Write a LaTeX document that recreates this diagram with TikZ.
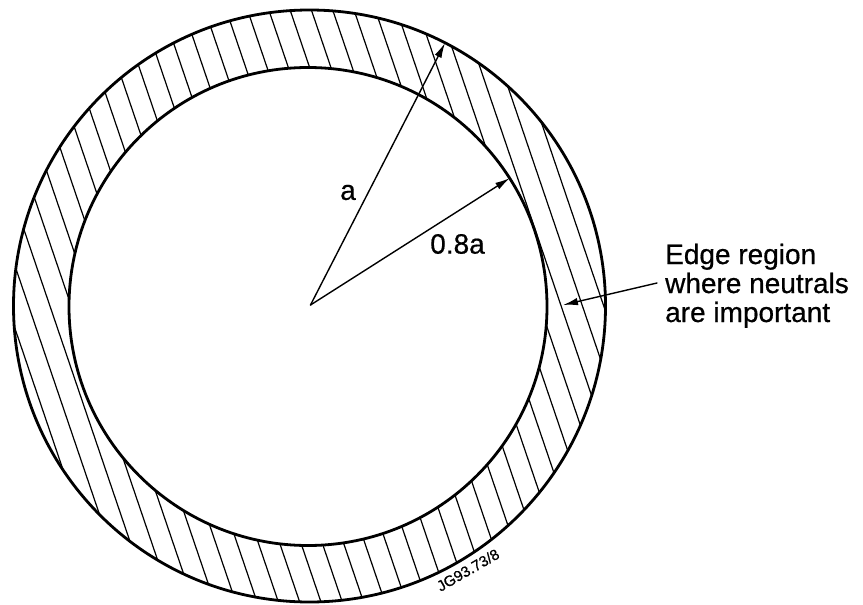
\documentclass[tikz,border=0pt]{standalone}
\usepackage{fontspec}
\setmainfont{Liberation Sans}
\newfontfamily\lblfont[FakeBold=0.6]{Liberation Sans}
\usetikzlibrary{arrows.meta}
\begin{document}
\begin{tikzpicture}[x=1pt,y=-1pt,line cap=round,
  ring/.style={line width=2.8pt},
  hatch/.style={line width=1.2pt},
  ptr/.style={line width=1.4pt,-{Latex[length=15pt,width=7.5pt]}},
  lbl/.style={inner sep=0pt,font=\lblfont\fontsize{28}{29}\selectfont},
  tag/.style={inner sep=0pt,font=\lblfont\fontsize{15}{16}\selectfont}]
\useasboundingbox (0,0) rectangle (863,605);
\coordinate (O) at (309.5,306);
\coordinate (I) at (308,306.5);
\begin{scope}[even odd rule]
  \clip (O) circle[radius=296pt] (I) circle[radius=239pt];
  \foreach \k in {-12,...,26}
    \draw[hatch] ({156.1+21.3*\k-102},5) -- ({156.1+21.3*\k+102},605);
\end{scope}
\draw[ring] (O) circle[radius=296pt];
\draw[ring] (I) circle[radius=239pt];
\coordinate (C) at (310.5,305);
\coordinate (ta) at (445,43);
\coordinate (tb) at (510,178);
\draw[ptr] (C) -- (ta);
\draw[ptr] (C) -- (tb);
\node[lbl] (la) at (348,192.5) {a};
\node[lbl] (lb) at (457.5,244) {0.8a};
\node[lbl,anchor=base west] (e1) at (665,264) {Edge region};
\node[lbl,anchor=base west] (e2) at (665,293) {where neutrals};
\node[lbl,anchor=base west] (e3) at (665,322) {are important};
\coordinate (es) at (657,283);
\coordinate (et) at (563,305);
\draw[ptr] (es) -- (et);
\node[tag,rotate=30] (jg) at (468,570) {JG93.73/8};
\end{tikzpicture}
\end{document}
